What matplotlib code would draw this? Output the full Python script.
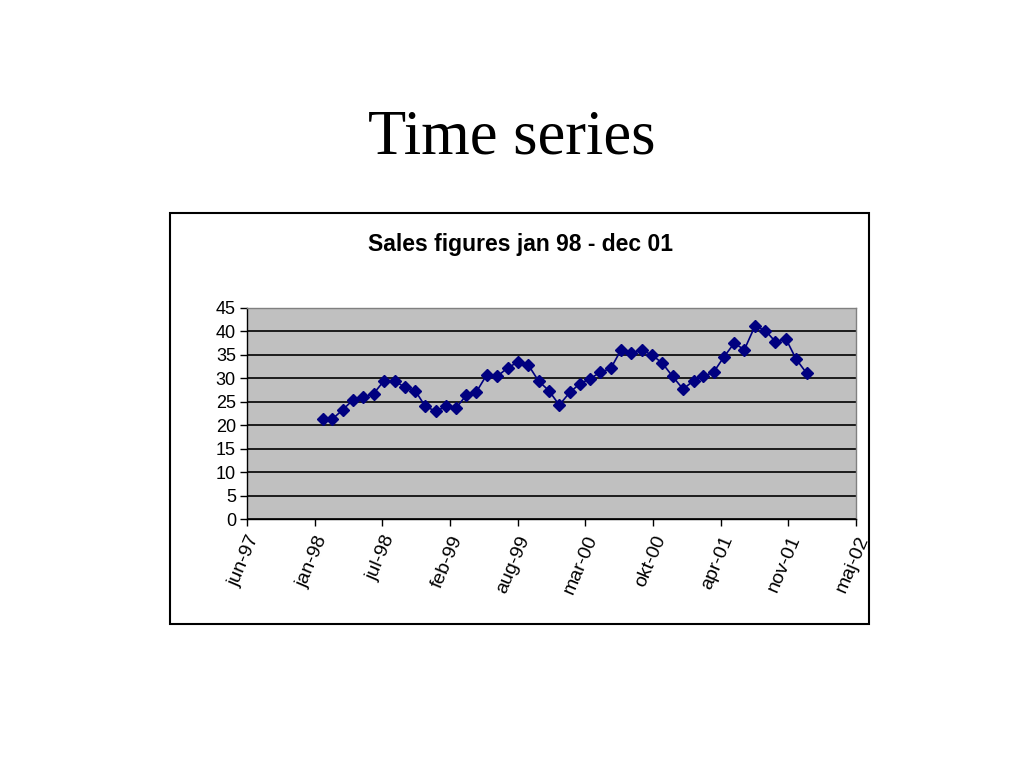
import matplotlib
matplotlib.use("Agg")
import matplotlib.pyplot as plt
import matplotlib.dates as mdates
import matplotlib.transforms as mtransforms
from matplotlib.patches import Rectangle
import pandas as pd

# monthly sales, jan 98 - dec 01 (points sit at month end)
months = pd.date_range("1998-01-31", periods=48, freq="ME")
sales = [21.3, 21.3, 23.3, 25.4, 26.0, 26.7, 29.5, 29.5, 28.1, 27.4, 24.0, 23.0,
         24.0, 23.6, 26.4, 27.1, 30.8, 30.4, 32.2, 33.5, 32.9, 29.4, 27.4, 24.3,
         27.0, 28.8, 29.9, 31.3, 32.1, 36.0, 35.5, 36.0, 35.0, 33.2, 30.4, 27.7,
         29.5, 30.4, 31.3, 34.5, 37.5, 36.1, 41.1, 40.2, 37.8, 38.4, 34.1, 31.1]

tick_labels = ["jun-97", "jan-98", "jul-98", "feb-99", "aug-99",
               "mar-00", "okt-00", "apr-01", "nov-01", "maj-02"]
axis_start = pd.Timestamp("1997-06-21")
tick_step_days = 200
y_ticks = list(range(0, 50, 5))

navy = "#000080"

fig = plt.figure(figsize=(10.24, 7.68), dpi=100)
fig.patch.set_facecolor("white")

fig.text(0.5, 1 - 138 / 768, "Time series", ha="center", va="center",
         family="Liberation Serif", fontsize=45)

# chart frame
fig.patches.append(Rectangle((170 / 1024, 1 - 624 / 768), 699 / 1024, 411 / 768,
                             transform=fig.transFigure, fill=False,
                             edgecolor="black", linewidth=1.5, zorder=0))
fig.text(520 / 1024, 1 - 244 / 768, "Sales figures jan 98 - dec 01",
         ha="center", va="center", family="Liberation Sans",
         fontweight="bold", fontsize=16.5)

ax = fig.add_axes([247 / 1024, 1 - 519 / 768, 609 / 1024, 211 / 768])
ax.set_facecolor("#C0C0C0")

tick_dates = [axis_start + pd.Timedelta(days=tick_step_days * i)
              for i in range(len(tick_labels))]
ax.set_xlim(mdates.date2num(tick_dates[0]), mdates.date2num(tick_dates[-1]))
ax.set_ylim(0, 45)

ax.set_yticks(y_ticks)
ax.yaxis.grid(True, color="black", linewidth=1.2)
ax.set_axisbelow(True)

ax.plot(mdates.date2num(months), sales, color=navy, linewidth=1.2,
        marker="D", markersize=6.5, markerfacecolor=navy, markeredgecolor=navy,
        zorder=3)

ax.set_xticks(mdates.date2num(tick_dates))
ax.set_xticklabels(tick_labels, rotation=67, ha="right", va="top",
                   rotation_mode="anchor")

shift = mtransforms.ScaledTranslation(-7 / 100, 0, fig.dpi_scale_trans)
for lbl in ax.get_xticklabels():
    lbl.set_family("Liberation Sans")
    lbl.set_fontsize(14)
    lbl.set_transform(lbl.get_transform() + shift)
for lbl in ax.get_yticklabels():
    lbl.set_family("Liberation Sans")
    lbl.set_fontsize(13)

ax.tick_params(axis="both", direction="out", length=5, width=1, color="black", pad=3)
ax.tick_params(axis="x", pad=5)

for side in ("top", "right"):
    ax.spines[side].set_color("#808080")
    ax.spines[side].set_linewidth(1)
for side in ("left", "bottom"):
    ax.spines[side].set_color("black")
    ax.spines[side].set_linewidth(1)

fig.savefig("out.png", dpi=100, facecolor="white")
